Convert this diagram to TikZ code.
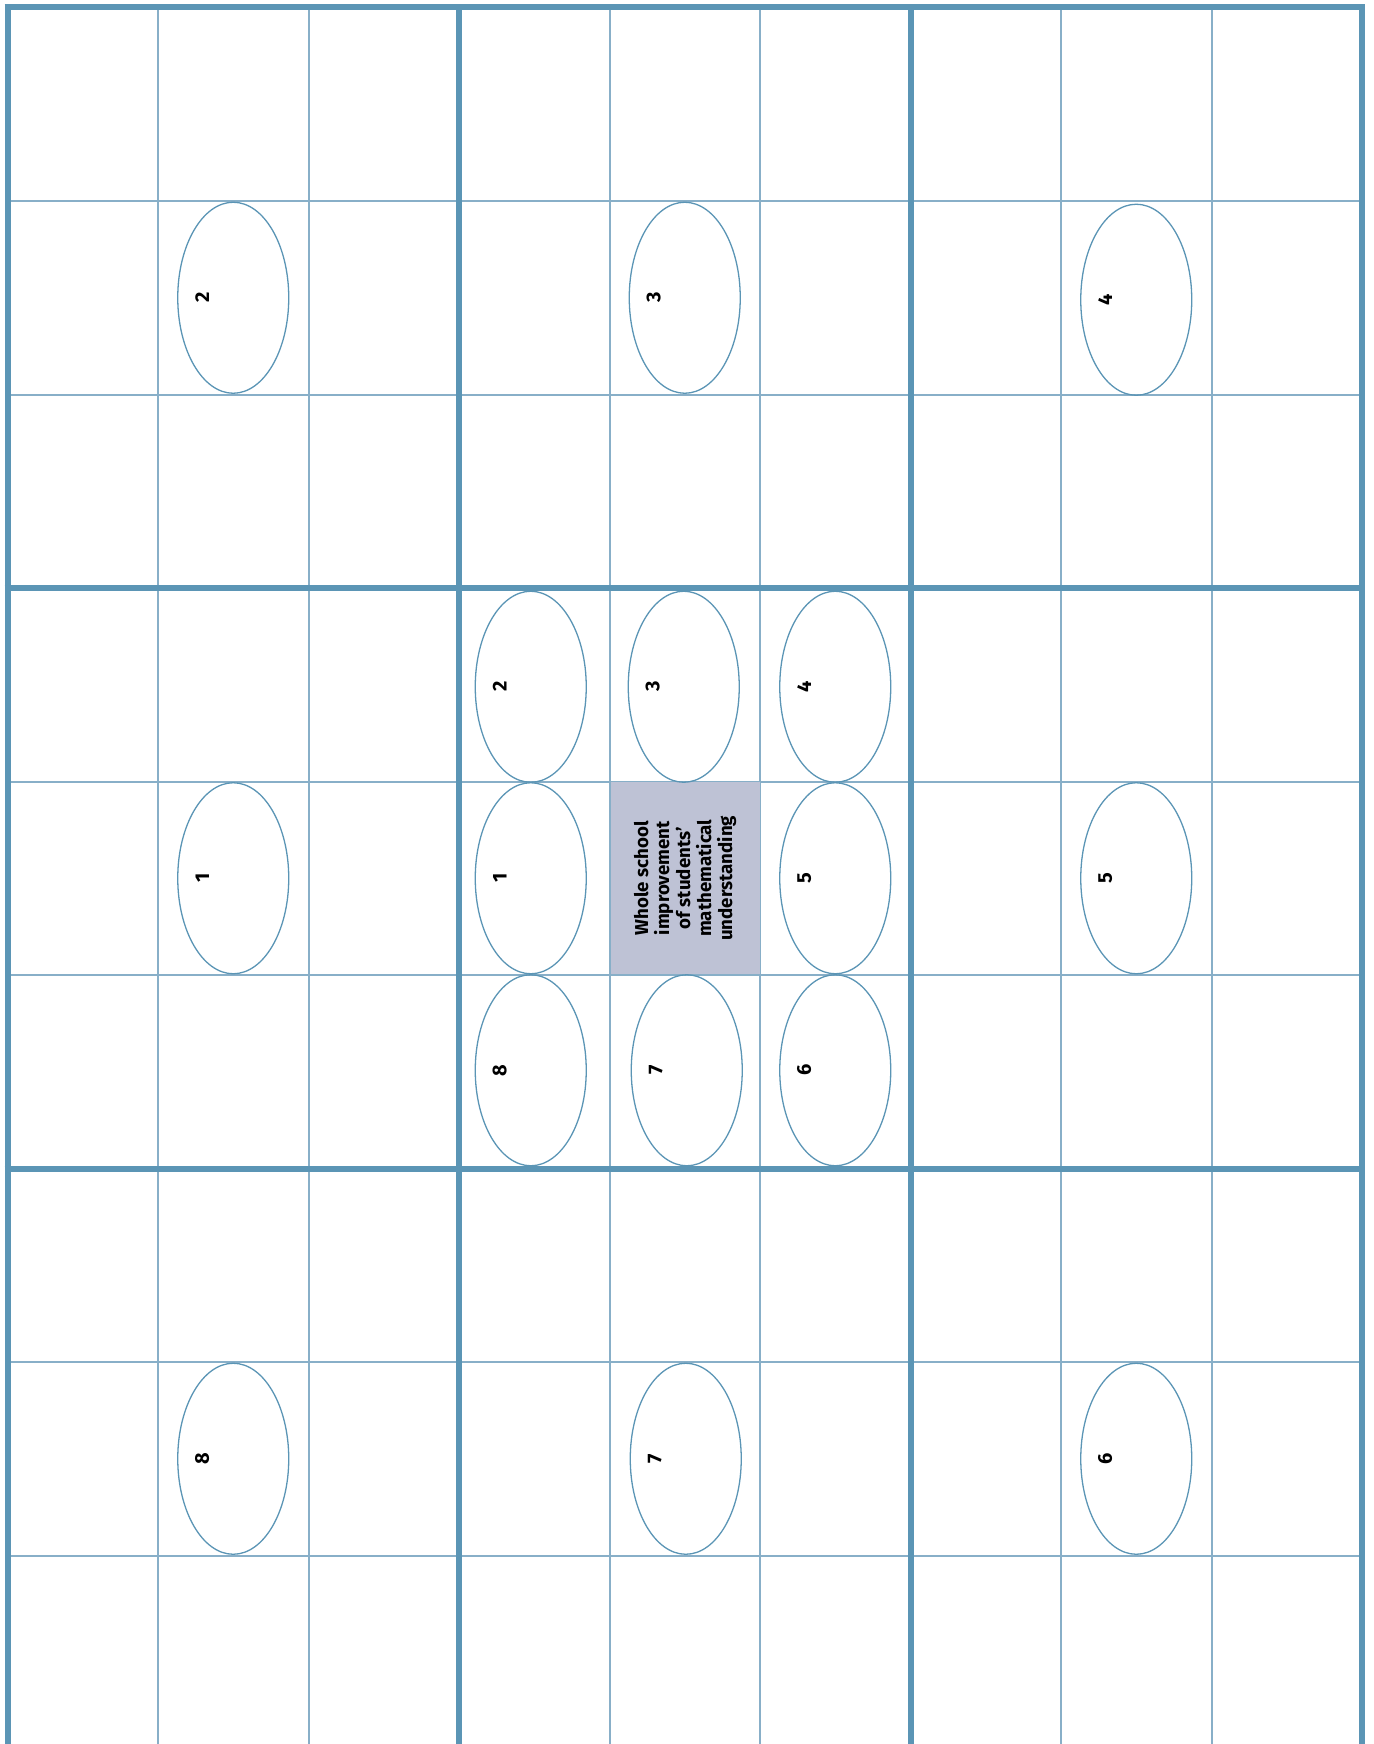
\documentclass[tikz,border=0pt]{standalone}
\usepackage{fontspec}
\setmainfont{Fira Sans}
\usetikzlibrary{shapes.geometric,calc}
\definecolor{thickc}{HTML}{5B95B5}
\definecolor{thinc}{HTML}{88AFC8}
\definecolor{boxfill}{HTML}{BEC2D5}
\begin{document}
\begin{tikzpicture}[x=1pt,y=-1pt,
  gridthin/.style={draw=thinc, line width=2pt},
  gridthick/.style={draw=thickc, line width=6pt},
  oval/.style={ellipse, draw=thickc, line width=1.3pt, minimum width=111pt, minimum height=191pt, inner sep=0pt},
  num/.style={rotate=90, inner sep=0pt, font=\fontsize{20}{20}\selectfont\bfseries},
  centrebox/.style={rectangle, draw=thinc, line width=1.5pt, fill=boxfill},
  centretext/.style={rotate=90, inner sep=0pt, align=center,
    font=\fontsize{18.7}{21}\selectfont\bfseries}]
\useasboundingbox (0,0) rectangle (1373,1744);
% thin grid
\foreach \i in {1,2,4,5,7,8}
  \draw[gridthin] ({7.5+150.5*\i},7.5) -- ({7.5+150.5*\i},1744);
\foreach \j in {1,2,4,5,7,8}
  \draw[gridthin] (7.5,{7.5+193.5*\j}) -- (1362,{7.5+193.5*\j});
% centre box
\node[centrebox, minimum width=150.5pt, minimum height=193.5pt, inner sep=0pt] (goal) at (685,878.25) {};
\node[centretext] (goaltext) at (goal.center) {Whole school\\improvement\\of students'\\mathematical\\understanding};
% thick grid
\foreach \i in {0,3,6,9}
  \draw[gridthick] ({7.5+150.5*\i},4.5) -- ({7.5+150.5*\i},1744);
\foreach \j in {0,3,6}
  \draw[gridthick] (4.5,{7.5+193.5*\j}) -- (1365,{7.5+193.5*\j});
% ellipses: column/row/dx/dy/label/name
\foreach \c/\r/\dx/\dy/\t/\n in {1/1/0/0/2/a2, 4/1/0/0/3/a3, 7/1/0/2/4/a4,
                         1/4/0/0/1/a1, 7/4/0/0/5/a5,
                         3/3/-3.5/2/2/b2, 4/3/-1/2/3/b3, 5/3/0/2/4/b4,
                         3/4/-3.5/0/1/b1, 5/4/0/0/5/b5,
                         3/5/-3.5/-1.5/8/b8, 4/5/2/-1.5/7/b7, 5/5/0/-1.5/6/b6,
                         1/7/0/0/8/a8, 4/7/1/0/7/a7, 7/7/0/0/6/a6}{
  \node[oval] (e\n) at ({82.75+150.5*\c+\dx},{104.25+193.5*\r+\dy}) {};
  \node[num] (t\n) at ($(e\n)+(-31,0)$) {\t};
}
\end{tikzpicture}
\end{document}
